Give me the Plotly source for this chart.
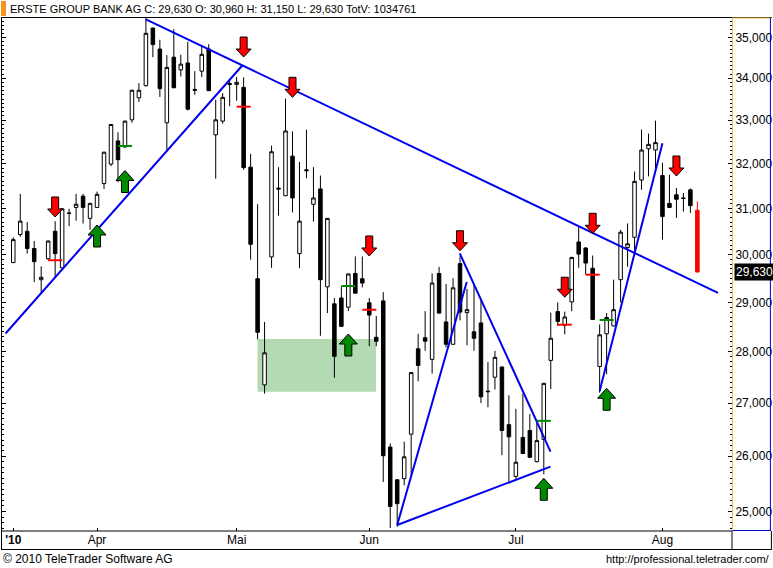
import math
import plotly.graph_objects as go

# ---------------- data ----------------
title_name = "ERSTE GROUP BANK AG"
volume_last = 1034761

opens = [29830, 30430, 30500, 30130, 29470, 29910, 30500, 29720, 30900, 31020,
         31270, 30780, 31020, 31550, 31990, 32520, 32380, 33010, 33530, 33820,
         35230, 34710, 32940, 34510, 34200, 34370, 33730, 34170, 34710, 32660,
         32980, 33870, 33850, 33780, 31920, 29490, 27350, 29950, 31450, 31280,
         32170, 30020, 31860, 31090, 31430, 29320, 28970, 29090, 28900, 29600,
         29490, 28990, 28290, 29030, 26170, 25570, 25590, 26410, 28060, 28280,
         27850, 29600, 28600, 28150, 29810, 28790, 28400, 28580, 27230, 27500,
         27700, 26590, 25630, 26350, 26480, 25900, 26310, 27830, 28810, 28530,
         29010, 30270, 30140, 29710, 27710, 28360, 28520, 29470, 30150, 30370,
         31630, 32340, 32310, 31730, 31110, 31300, 31230, 31410, 30960]
highs = [30370, 31320, 30700, 30290, 29750, 30300, 30720, 31000, 30990, 31320,
         31320, 31120, 31370, 32270, 32910, 32720, 32990, 33720, 33880, 35530,
         35240, 34940, 34560, 35200, 34570, 34890, 34170, 34810, 34830, 33480,
         33640, 33940, 34030, 34020, 32220, 31090, 28600, 32410, 31920, 33510,
         32740, 32040, 32780, 31920, 31730, 30790, 29090, 29330, 29600, 29960,
         29960, 29090, 28720, 29210, 26240, 25580, 26270, 27600, 28360, 28820,
         29600, 29740, 29380, 29500, 29960, 29280, 29350, 29040, 27800, 28020,
         27710, 27150, 26890, 27180, 26790, 26620, 27390, 28790, 29000, 28810,
         29950, 30600, 30160, 29980, 28550, 28780, 29470, 30530, 30670, 31820,
         32780, 32690, 32990, 32020, 31750, 31450, 31340, 31440, 31150]
lows = [29820, 30380, 30020, 29420, 29180, 29890, 29520, 29710, 30610, 30730,
        30670, 30530, 31020, 31430, 31940, 31580, 32370, 32940, 33430, 33800,
        34510, 33550, 32300, 33760, 34040, 33230, 33600, 34030, 33690, 31660,
        32920, 33330, 33460, 31860, 29890, 28250, 27180, 29720, 30840, 31270,
        30910, 29710, 31670, 30710, 28320, 28780, 27490, 28500, 28820, 29180,
        29310, 28110, 28110, 25530, 24710, 24730, 25470, 25660, 27420, 28020,
        27570, 28770, 28090, 28140, 28630, 28130, 28020, 27000, 26920, 27260,
        26020, 25500, 25570, 26040, 25970, 25890, 25670, 27270, 28520, 28350,
        28820, 29720, 29580, 28640, 27200, 27560, 28510, 29000, 29740, 30090,
        31410, 31710, 31840, 30320, 31010, 30790, 30930, 30900, 29630]
closes = [30320, 30720, 30130, 29850, 29520, 30290, 30020, 30990, 30890, 31090,
          31020, 31110, 31310, 32260, 32900, 32090, 32980, 33710, 33710, 35100,
          34820, 33750, 34260, 33770, 34340, 33260, 33710, 34580, 33700, 33010,
          33540, 33850, 33900, 31910, 30220, 28390, 27980, 32270, 31430, 32750,
          31230, 30720, 31840, 31230, 29470, 30780, 27910, 28510, 29590, 29190,
          29400, 28740, 28210, 26010, 25090, 25140, 25990, 27590, 27730, 28210,
          29400, 28780, 28150, 29300, 28800, 28850, 28270, 27120, 27220, 27890,
          26480, 26360, 25890, 26050, 25980, 26290, 27380, 28270, 28610, 28700,
          29940, 30010, 29820, 28650, 28340, 28690, 28850, 30480, 30230, 31600,
          32310, 32440, 32480, 30820, 31020, 31200, 31220, 31060, 29630]

# month ticks (trading-day index of first day of month)
month_tick_idx = [0, 12, 32, 51, 72, 93]
month_tick_text = ["<b>'10</b>", "Apr", "Mai", "Jun", "Jul", "Aug"]
price_ticks = [25000, 26000, 27000, 28000, 29000, 30000, 31000, 32000, 33000, 34000, 35000]

# trend lines: (start index, start price, end index, end price)
trend_x0 = [-1.11, 19.0, 55.0, 63.96, 55.0, 84.0]
trend_p0 = [28366, 35450, 24763, 30027, 24763, 27233]
trend_x1 = [32.81, 100.96, 64.96, 76.96, 76.96, 93.0]
trend_p1 = [34307, 29195, 29422, 26085, 25809, 32465]

# signal arrows (tip positions)
sell_idx = [6, 33, 40, 51, 64, 79, 83, 95]
sell_price = [30811, 34514, 33541, 29970, 30082, 29105, 30456, 31720]
buy_idx = [12, 16, 48, 76, 85]
buy_price = [30636, 31844, 28356, 25597, 27285]

# short horizontal marks
red_mark_idx = [6, 33, 51, 79, 83]
red_mark_price = [29879, 33319, 28849, 28544, 29575]
green_mark_idx = [16, 48, 76, 85]
green_mark_price = [32402, 29338, 26661, 28639]

# highlighted zone
zone_idx = [35.0, 51.96]
zone_price = [27219, 28256]

# ---------------- layout helpers ----------------
W, H = 773, 568
ML, MR, MT, MB = 1, 40, 17, 37
PW = W - ML - MR
PH = H - MT - MB


def pxx(x):
    return (x - ML) / PW


def pxy(y):
    return (H - MB - y) / PH


FONT = "Liberation Sans"
days = list(range(len(opens)))

fig = go.Figure()

fig.add_trace(go.Candlestick(
    x=days[:-1], open=opens[:-1], high=highs[:-1], low=lows[:-1], close=closes[:-1],
    increasing=dict(fillcolor="white", line=dict(color="black", width=1)),
    decreasing=dict(fillcolor="black", line=dict(color="black", width=1)),
    whiskerwidth=0, hoverinfo="skip", showlegend=False))
fig.add_trace(go.Candlestick(
    x=days[-1:], open=opens[-1:], high=highs[-1:], low=lows[-1:], close=closes[-1:],
    increasing=dict(fillcolor="red", line=dict(color="red", width=1)),
    decreasing=dict(fillcolor="red", line=dict(color="red", width=1)),
    whiskerwidth=0, hoverinfo="skip", showlegend=False))

for a, b, c, d in zip(trend_x0, trend_p0, trend_x1, trend_p1):
    fig.add_trace(go.Scatter(x=[a, c], y=[b, d], mode="lines",
                             line=dict(color="#0000ee", width=2),
                             hoverinfo="skip", showlegend=False))

shapes = []
# zone
shapes.append(dict(type="rect", xref="x", yref="y", x0=zone_idx[0], x1=zone_idx[1],
                   y0=zone_price[0], y1=zone_price[1], fillcolor="#b4dab4",
                   line=dict(width=0), layer="below"))

down_path = "M0,0 L-7.5,8 L-3.5,8 L-3.5,20 L3.5,20 L3.5,8 L7.5,8 Z"
up_path = "M0,0 L-9,-10 L-3.5,-10 L-3.5,-22 L3.5,-22 L3.5,-10 L9,-10 Z"
for i, p in zip(sell_idx, sell_price):
    shapes.append(dict(type="path", xref="x", yref="y", xsizemode="pixel", ysizemode="pixel",
                       xanchor=i, yanchor=p, path=down_path, fillcolor="#ff0000",
                       line=dict(color="black", width=1), layer="above"))
for i, p in zip(buy_idx, buy_price):
    shapes.append(dict(type="path", xref="x", yref="y", xsizemode="pixel", ysizemode="pixel",
                       xanchor=i, yanchor=p, path=up_path, fillcolor="#008a00",
                       line=dict(color="black", width=1), layer="above"))
for i, p in zip(red_mark_idx, red_mark_price):
    shapes.append(dict(type="line", xref="x", yref="y", xsizemode="pixel", xanchor=i,
                       x0=-7, x1=7, y0=p, y1=p, line=dict(color="#ff0000", width=2), layer="above"))
for i, p in zip(green_mark_idx, green_mark_price):
    shapes.append(dict(type="line", xref="x", yref="y", xsizemode="pixel", xanchor=i,
                       x0=-7, x1=7, y0=p, y1=p, line=dict(color="#008a00", width=2), layer="above"))


def pline(x0, y0, x1, y1, color="black", width=1):
    shapes.append(dict(type="line", xref="paper", yref="paper",
                       x0=pxx(x0), y0=pxy(y0), x1=pxx(x1), y1=pxy(y1),
                       line=dict(color=color, width=width), layer="above"))


# frame
pline(0, 17.5, 773, 17.5)
pline(0.5, 17, 0.5, 549)
pline(0, 531, 733, 531)
pline(0, 549.5, 773, 549.5)
pline(733, 531, 733, 549)
pline(772.5, 531, 772.5, 549)
pline(733.5, 17.5, 733.5, 531, color="#f2c040")
pline(733.5, 18, 772, 18, color="#f2c040")
pline(771.5, 18, 771.5, 531, color="#0000c8")
pline(733.5, 530.5, 772, 530.5, color="#0000c8")
# orange marker in the title bar
shapes.append(dict(type="rect", xref="paper", yref="paper", x0=pxx(0), x1=pxx(5),
                   y0=pxy(16), y1=pxy(1), fillcolor="#f7941d", line=dict(width=0)))

title_text = (f"{title_name} C: {closes[-1]:,} O: {opens[-1]:,} H: {highs[-1]:,} "
              f"L: {lows[-1]:,} TotV: {volume_last}")

annotations = [
    dict(text=title_text, xref="paper", yref="paper", x=pxx(7), y=pxy(9),
         xanchor="left", yanchor="middle", showarrow=False,
         font=dict(family=FONT, size=11, color="black")),
    dict(text="© 2010 TeleTrader Software AG", xref="paper", yref="paper",
         x=pxx(0), y=pxy(558.5), xanchor="left", yanchor="middle", showarrow=False,
         font=dict(family=FONT, size=12, color="black")),
    dict(text="http://professional.teletrader.com/", xref="paper", yref="paper",
         x=pxx(773), y=pxy(558.5), xanchor="right", yanchor="middle", showarrow=False,
         font=dict(family=FONT, size=11, color="black")),
    dict(text=f"{closes[-1]:,}", xref="paper", yref="y", x=pxx(735),
         y=math.log10(closes[-1]), xanchor="left", yanchor="middle", showarrow=False,
         bgcolor="black", borderpad=1,
         font=dict(family=FONT, size=12, color="white")),
]

minor_vals = [v for v in range(24700, 35600, 100) if v % 1000 != 0]

fig.update_layout(
    width=W, height=H,
    margin=dict(l=ML, r=MR, t=MT, b=MB, pad=0),
    paper_bgcolor="white", plot_bgcolor="white",
    showlegend=False,
    shapes=shapes, annotations=annotations,
    xaxis=dict(range=[-1.614, 102.96], tickmode="array", tickvals=month_tick_idx,
               ticktext=month_tick_text, ticks="inside", ticklen=3, tickcolor="black",
               showgrid=False, zeroline=False, showline=False,
               rangeslider=dict(visible=False),
               tickfont=dict(family=FONT, size=12, color="black")),
    yaxis=dict(type="log", range=[4.39194, 4.55033], side="right",
               tickmode="array", tickvals=price_ticks,
               ticktext=[f"{v:,}" for v in price_ticks],
               ticks="inside", ticklen=4, tickcolor="black", mirror="ticks",
               showline=True, linecolor="black", showgrid=False, zeroline=False,
               minor=dict(tickmode="array", tickvals=minor_vals, ticks="inside",
                          ticklen=2, tickcolor="black", showgrid=False),
               tickfont=dict(family=FONT, size=12, color="black")),
    boxgap=0.28,
)

fig.write_html("out.html", config={"displayModeBar": False},
               post_script="document.body.style.margin='0px';")
